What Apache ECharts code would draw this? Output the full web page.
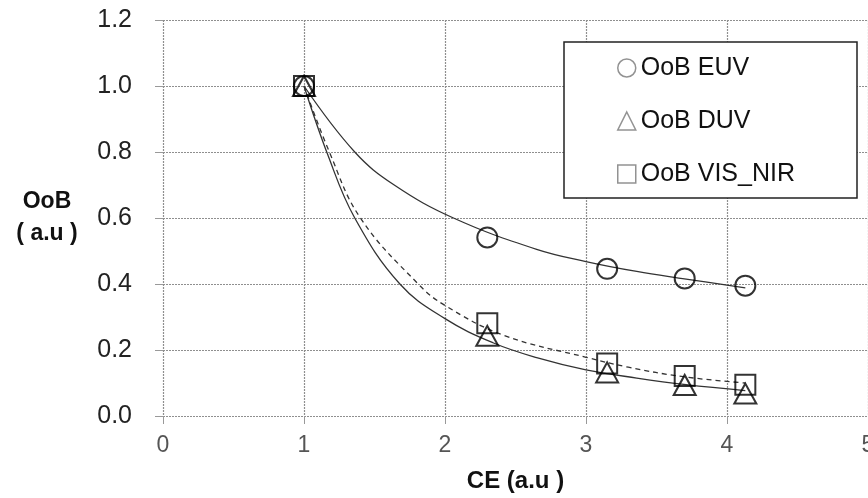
<!DOCTYPE html>
<html>
<head>
<meta charset="utf-8">
<script src="https://cdn.jsdelivr.net/npm/echarts@6/dist/echarts.min.js"></script>
<style>
  html, body { margin: 0; padding: 0; background: #fff; }
  #chart { width: 868px; height: 498px; }
</style>
</head>
<body>
<div id="chart"></div>
<script>
// measured points (CE, OoB)
var ceX = [1, 2.3, 3.15, 3.7, 4.13];
var euvY = [1, 0.541, 0.446, 0.417, 0.395];
var duvY = [1, 0.243, 0.132, 0.094, 0.068];
var visY = [1, 0.281, 0.159, 0.121, 0.095];

// trend curves
var euvFitX = [1, 1.36, 1.64, 2.06, 2.65, 3, 3.36, 3.71, 4.13];
var euvFitY = [1, 0.80, 0.70, 0.60, 0.505, 0.468, 0.438, 0.415, 0.388];
var duvFitX = [1, 1.17, 1.36, 1.68, 2, 2.34, 2.65, 3, 3.36, 3.71, 4.13];
var duvFitY = [1, 0.79, 0.60, 0.40, 0.295, 0.222, 0.177, 0.14, 0.115, 0.095, 0.077];
var visFitX = [1, 1.18, 1.40, 1.81, 2, 2.42, 3, 3.3, 3.69, 4.13];
var visFitY = [1, 0.80, 0.60, 0.40, 0.335, 0.244, 0.178, 0.148, 0.119, 0.10];

var seriesNames = ['OoB EUV', 'OoB DUV', 'OoB VIS_NIR'];

function pairs(xs, ys) {
  return xs.map(function (x, i) { return [x, ys[i]]; });
}

var font = 'Liberation Sans, Arial, sans-serif';
var chart = echarts.init(document.getElementById('chart'));

var gridLine = { show: true, lineStyle: { color: '#8f8f8f', width: 1.2, type: [2, 1] } };
var tick = { show: true, inside: false, length: 8, lineStyle: { color: '#999' } };

function marker(name, symbol, size, ys) {
  return {
    name: name,
    type: 'scatter',
    symbol: symbol,
    symbolSize: size,
    data: pairs(ceX, ys),
    itemStyle: { color: 'transparent', borderColor: '#000', borderWidth: 2 },
    z: 4
  };
}

function fit(name, xs, ys, dash) {
  return {
    name: name,
    type: 'line',
    data: pairs(xs, ys),
    smooth: 0.4,
    showSymbol: false,
    silent: true,
    lineStyle: { color: '#333', width: 1.3, type: dash ? [5, 4] : 'solid' },
    z: 3
  };
}

var option = {
  animation: false,
  textStyle: { fontFamily: font },
  grid: { left: 163, top: 20, right: 0, bottom: 82, outerBoundsMode: 'none' },
  xAxis: {
    type: 'value',
    min: 0, max: 5, interval: 1,
    name: 'CE (a.u )',
    nameLocation: 'middle',
    nameGap: 65,
    nameTextStyle: { fontSize: 24, fontWeight: 'bold', color: '#111', verticalAlign: 'middle' },
    axisLine: { show: false },
    axisTick: tick,
    axisLabel: { fontSize: 23, color: '#555', margin: 18 },
    splitLine: gridLine
  },
  yAxis: {
    type: 'value',
    min: 0, max: 1.2, interval: 0.2,
    name: 'OoB\n( a.u )',
    nameLocation: 'middle',
    nameRotate: 0,
    nameGap: 116,
    nameTextStyle: { fontSize: 23, fontWeight: 'bold', color: '#111', align: 'center', verticalAlign: 'middle', lineHeight: 32 },
    axisLine: { show: false },
    axisTick: tick,
    axisLabel: { fontSize: 25, color: '#222', margin: 31, formatter: function (v) { return v.toFixed(1); } },
    splitLine: gridLine
  },
  graphic: [{
    type: 'rect',
    shape: { x: 564, y: 42, width: 293, height: 156 },
    style: { fill: '#fff', stroke: '#222', lineWidth: 1.5 },
    z: 10
  }],
  legend: {
    orient: 'vertical',
    left: 617,
    top: 55,
    padding: 0,
    itemWidth: 18,
    itemHeight: 18,
    itemGap: 27,
    z: 20,
    textStyle: { fontSize: 25, color: '#111', lineHeight: 26 },
    itemStyle: { color: '#fff', borderColor: '#777', borderWidth: 1.5 },
    data: [
      { name: seriesNames[0], icon: 'circle' },
      { name: seriesNames[1], icon: 'triangle' },
      { name: seriesNames[2], icon: 'rect' }
    ]
  },
  series: [
    fit('EUV fit', euvFitX, euvFitY, false),
    fit('DUV fit', duvFitX, duvFitY, false),
    fit('VIS_NIR fit', visFitX, visFitY, true),
    marker(seriesNames[0], 'circle', 20, euvY),
    marker(seriesNames[1], 'triangle', [22, 20], duvY),
    marker(seriesNames[2], 'rect', 20, visY)
  ]
};

chart.setOption(option);
</script>
</body>
</html>
